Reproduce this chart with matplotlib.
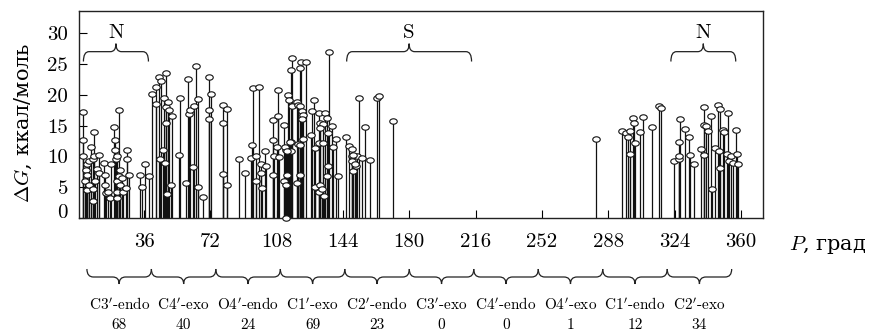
import matplotlib
matplotlib.use("Agg")
import matplotlib.pyplot as plt
from matplotlib.path import Path
from matplotlib.patches import PathPatch
import matplotlib.transforms as mtransforms

plt.rcParams['font.family'] = ['cmr10', 'DejaVu Serif']
plt.rcParams['mathtext.fontset'] = 'cm'
plt.rcParams['axes.unicode_minus'] = False
CYR = ['DejaVu Serif']  # cmr10 has no cyrillic glyphs

# pseudorotation phase P (deg) and energy dG (kcal/mol)
P_deg = [
    # C3'-endo
    3.1, 2.8, 2.8, 4.0, 4.4, 4.9, 5.3, 5.3, 6.3, 6.0, 7.4, 8.2, 8.4, 8.5, 8.9, 9.1,
    9.5, 10.4, 11.4, 11.8, 14.3, 14.6, 14.9, 15.4, 16.7, 17.4, 18.3, 19.8, 20.1,
    20.3, 20.8, 21.2, 21.3, 21.5, 21.5, 22.3, 22.5, 22.8, 23.2, 23.9, 24.8, 26.6,
    26.3, 27.0, 28.1, 33.7, 34.8,
    # C4'-exo
    36.4, 38.6, 40.4, 42.5, 42.4, 44.0, 44.7, 45.4, 46.5, 47.1, 47.6, 47.8, 48.0,
    48.0, 48.7, 49.2, 49.8, 50.5, 51.0, 55.6, 55.2, 58.6, 60.1, 60.4, 61.0, 62.8,
    63.3, 64.1, 65.2, 65.3, 68.2, 71.5, 71.5, 71.5,
    # O4'-endo
    72.2, 79.1, 81.2, 78.7, 78.7, 80.9, 87.7, 91.0, 94.8, 95.0, 94.1, 98.3, 96.8,
    96.8, 99.5, 99.5, 99.9, 101.7, 102.2, 106.2, 106.2, 106.2, 106.6,
    # C1'-exo
    108.6, 108.9, 108.4, 109.5, 112.0, 112.0, 112.9, 113.1, 113.1, 114.3, 114.5,
    115.6, 116.2, 115.6, 115.6, 116.2, 118.9, 119.2, 119.8, 119.8, 121.2, 123.9,
    120.7, 120.7, 121.6, 122.1, 121.6, 122.1, 120.7, 120.9, 128.4, 127.0, 126.5,
    128.8, 128.8, 131.2, 134.2, 131.5, 133.3, 131.5, 135.1, 131.2, 133.3, 136.0,
    135.7, 131.5, 131.2, 133.9, 135.1, 132.4, 136.6, 137.9, 138.8, 140.2, 141.1,
    115.2, 112.5, 113.4, 113.4,
    # C2'-endo
    145.5, 147.3, 149.1, 148.7, 148.7, 149.3, 151.4, 151.1, 154.1, 152.5, 156.1,
    158.8, 162.3, 163.5, 171.3, 149.6, 150.5,
    # O4'-exo
    281.6,
    # C1'-endo
    295.6, 297.4, 298.5, 299.7, 299.7, 301.5, 301.9, 302.5, 305.2, 306.6, 311.5,
    315.5, 316.9,
    # C2'-exo
    323.8, 326.3, 326.9, 326.5, 326.5, 329.6, 331.9, 332.3, 334.6, 338.6, 340.1,
    339.9, 339.9, 341.0, 342.2, 343.7, 344.2, 345.8, 347.8, 348.2, 348.6, 348.9,
    350.4, 350.9, 352.2, 353.1, 353.6, 354.9, 355.8, 357.1, 357.9, 358.5,
]
dG = [
    # C3'-endo
    17.2, 12.6, 10.1, 6.0, 7.8, 8.7, 7.0, 4.6, 9.3, 5.4, 11.5, 2.7, 9.5, 4.7, 14.0, 10.0,
    6.0, 8.0, 10.2, 7.3, 9.0, 6.9, 5.3, 4.1, 4.3, 3.3, 8.7, 14.7, 12.7,
    11.0, 9.6, 6.0, 10.0, 4.3, 3.3, 17.6, 6.8, 5.3, 7.8, 6.5, 4.2, 11.0,
    4.9, 9.5, 6.9, 7.0, 5.1,
    # C4'-exo
    8.8, 6.8, 20.1, 21.3, 18.5, 22.9, 9.5, 22.2, 11.0, 19.4, 9.0, 23.5, 18.0,
    15.5, 3.9, 18.9, 17.6, 5.4, 16.6, 19.5, 10.2, 5.7, 22.5, 16.9, 17.6, 8.2,
    18.1, 24.7, 19.3, 5.0, 3.4, 22.9, 17.6, 16.1,
    # O4'-endo
    20.1, 18.3, 17.7, 15.5, 7.2, 5.3, 9.6, 7.3, 11.8, 21.1, 9.8, 21.3, 10.0,
    6.0, 8.8, 7.3, 4.9, 10.9, 8.5, 15.9, 12.7, 7.0, 10.0,
    # C1'-exo
    16.5, 20.8, 11.5, 9.9, 15.1, 6.0, 11.0, 5.3, 0.0, 19.9, 19.2,
    24.1, 25.9, 12.4, 10.8, 18.1, 18.9, 5.7, 18.4, 12.0, 25.4, 25.4,
    24.3, 18.1, 17.3, 16.7, 16.1, 12.8, 11.9, 6.9, 19.2, 17.3, 13.5,
    11.4, 5.1, 17.0, 17.0, 15.4, 15.2, 14.6, 16.2, 12.2, 12.1, 13.8,
    8.4, 5.4, 4.3, 3.5, 6.8, 4.7, 26.9, 14.9, 11.6, 12.8, 6.8,
    12.4, 11.6, 10.8, 6.9,
    # C2'-endo
    13.1, 11.7, 11.2, 10.0, 9.2, 7.7, 10.1, 8.4, 9.8, 19.4, 14.7,
    9.4, 19.4, 19.8, 15.7, 10.3, 8.8,
    # O4'-exo
    12.8,
    # C1'-endo
    14.2, 13.8, 13.2, 14.2, 10.4, 16.2, 15.4, 12.1, 13.9, 16.4, 14.7,
    18.1, 17.9,
    # C2'-exo
    9.2, 9.5, 16.1, 12.3, 10.0, 14.5, 13.2, 10.3, 8.7, 11.2, 18.0,
    15.1, 10.2, 15.0, 14.2, 16.5, 4.7, 11.4, 18.4, 10.8, 17.7, 8.1,
    14.3, 14.0, 10.4, 17.0, 9.2, 10.0, 8.9, 14.3, 10.4, 8.7,
]

conformations = ["C3$'$-endo", "C4$'$-exo", "O4$'$-endo", "C1$'$-exo", "C2$'$-endo",
                 "C3$'$-exo", "C4$'$-endo", "O4$'$-exo", "C1$'$-endo", "C2$'$-exo"]
counts = [68, 40, 24, 69, 23, 0, 0, 1, 12, 34]
brace_edges = [5, 40, 75, 110, 145, 180, 215, 250, 285, 320, 355]
x_ticks = [36, 72, 108, 144, 180, 216, 252, 288, 324, 360]
y_ticks = [0, 5, 10, 15, 20, 25, 30]
top_groups = [("N", 3.1, 38.4), ("S", 146.0, 213.8), ("N", 322.0, 357.2)]


def brace_path(x0, x1, y_line, y_end, y_tip, r):
    xm = (x0 + x1) / 2
    verts = [(x0, y_end), (x0, y_line), (x0 + r, y_line),
             (xm - r, y_line), (xm, y_line), (xm, y_tip),
             (xm, y_line), (xm + r, y_line),
             (x1 - r, y_line), (x1, y_line), (x1, y_end)]
    codes = [Path.MOVETO, Path.CURVE3, Path.CURVE3,
             Path.LINETO, Path.CURVE3, Path.CURVE3,
             Path.CURVE3, Path.CURVE3,
             Path.LINETO, Path.CURVE3, Path.CURVE3]
    return Path(verts, codes)


fig = plt.figure(figsize=(8.69, 3.36), dpi=100)
ax = fig.add_axes([79 / 869, 1 - 218 / 336, 684 / 869, 207 / 336])

# stems and oval markers
ax.vlines(P_deg, 0, dG, color='#111111', lw=0.9, zorder=2)
circ = Path.unit_circle()
oval = Path(circ.vertices * [1.0, 0.72], circ.codes)
ax.plot(P_deg, dG, ls='none', marker=oval, ms=5.4, mfc='white', mec='#111111',
        mew=0.8, zorder=3, clip_on=False)

ax.set_xlim(0.7, 372)
ax.set_ylim(0, 33.6)
ax.set_xticks(x_ticks)
ax.set_xticklabels([str(t) for t in x_ticks], fontsize=15)
ax.set_yticks(y_ticks)
ax.set_yticklabels([str(t) for t in y_ticks], fontsize=15)
ax.tick_params(axis='x', direction='in', length=6, width=0.8, pad=11)
ax.tick_params(axis='y', direction='in', length=6, width=0.8, pad=8)
# the "0" label sits a bit above the bottom edge in the original
lab0 = ax.get_yticklabels()[0]
lab0.set_transform(lab0.get_transform() +
                   mtransforms.ScaledTranslation(0, 0.07, fig.dpi_scale_trans))
for s in ax.spines.values():
    s.set_linewidth(1.0)
    s.set_color('#222222')

ax.set_ylabel(r"$\Delta G$, ккал/моль", fontsize=15, family=CYR)
ax.yaxis.set_label_coords(-0.066, 0.46)
fig.text(789 / 869, 1 - 245 / 336, "$P$, град", fontsize=15, family=CYR,
         ha='left', va='center')

# N / S braces on top
for name, a, b in top_groups:
    ax.add_patch(PathPatch(brace_path(a, b, 27.0, 25.4, 28.3, 3.0),
                           fc='none', ec='#222222', lw=0.9, clip_on=False))
    ax.text((a + b) / 2, 30.1, name, fontsize=15, ha='center', va='center')

# conformation braces under the axis
trans = mtransforms.blended_transform_factory(ax.transData, fig.transFigure)
for i in range(len(conformations)):
    a, b = brace_edges[i], brace_edges[i + 1]
    p = PathPatch(brace_path(a, b, 1 - 277 / 336, 1 - 269 / 336, 1 - 284 / 336, 3.5),
                  fc='none', ec='#222222', lw=0.9, transform=trans, clip_on=False)
    fig.patches.append(p)
    fig.text((a + b) / 2, 1 - 305 / 336, conformations[i], transform=trans,
             fontsize=11, ha='center', va='center')
    fig.text((a + b) / 2, 1 - 325 / 336, str(counts[i]), transform=trans,
             fontsize=11, ha='center', va='center')

fig.savefig("out.png", dpi=100)
